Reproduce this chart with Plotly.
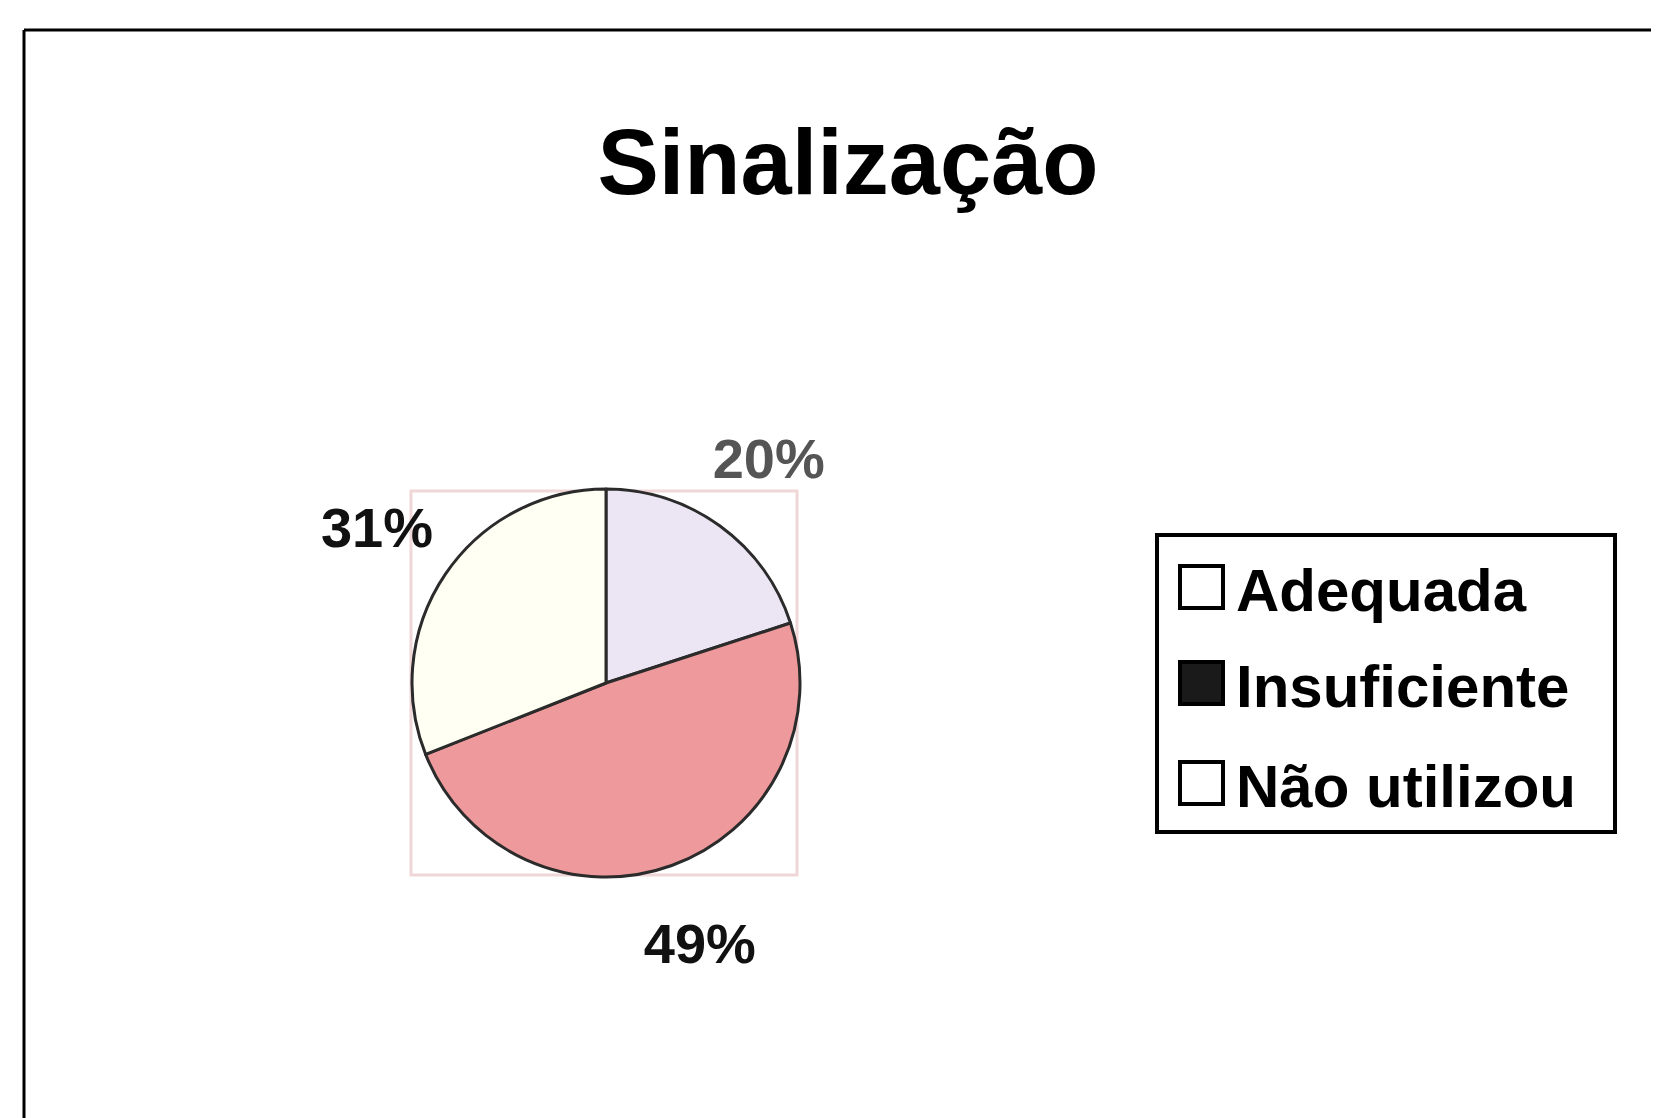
import plotly.graph_objects as go

W, H = 1659, 1118
OFF = 8  # body margin of the html page

labels = ['Adequada', 'Insuficiente', 'Não utilizou']
values = [20, 49, 31]
slice_colors = ['#ece5f4', '#ee999b', '#fffff3']
label_colors = ['#555555', '#111111', '#111111']
legend_box_colors = ['white', '#1a1a1a', 'white']

FONT = 'Arial, Liberation Sans, sans-serif'

CX, CY, R = 606, 683, 194   # pie centre / radius in page pixels
R_LAB = 355                 # outer radius of the ring that carries the % labels


def px(x):
    return (x - OFF) / W


def py(y):
    return 1 - (y - OFF) / H


fig = go.Figure()
fig.add_trace(go.Pie(
    labels=labels, values=values, sort=False, direction='clockwise', rotation=0,
    marker=dict(colors=slice_colors, line=dict(color='#2b2b2b', width=3)),
    textinfo='none',
    domain=dict(x=[px(CX - R), px(CX + R)], y=[py(CY + R), py(CY - R)]),
    showlegend=False, hoverinfo='label+percent',
))
# transparent ring of the same data, only used to place the percentage labels
fig.add_trace(go.Pie(
    labels=labels, values=values, sort=False, direction='clockwise', rotation=0,
    hole=0.56,
    marker=dict(colors=['rgba(0,0,0,0)'] * 3, line=dict(width=0)),
    textinfo='percent', textposition='inside', insidetextorientation='horizontal',
    insidetextfont=dict(family=FONT, size=56, color=label_colors, weight='bold'),
    domain=dict(x=[px(CX - R_LAB), px(CX + R_LAB)], y=[py(CY + R_LAB), py(CY - R_LAB)]),
    showlegend=False, hoverinfo='skip',
))

shapes = [
    # scanned page frame
    dict(type='line', xref='paper', yref='paper', x0=px(24), x1=px(W + 20), y0=py(30), y1=py(30),
         line=dict(color='black', width=3)),
    dict(type='line', xref='paper', yref='paper', x0=px(24), x1=px(24), y0=py(30), y1=py(H + 20),
         line=dict(color='black', width=3)),
    # faint plot-area box around the pie
    dict(type='rect', xref='paper', yref='paper', x0=px(411), x1=px(797), y0=py(875), y1=py(491),
         line=dict(color='#f0d6d6', width=3), layer='below'),
    # legend frame
    dict(type='rect', xref='paper', yref='paper', x0=px(1157), x1=px(1615), y0=py(832), y1=py(535),
         line=dict(color='black', width=4)),
]

annotations = []
row_y = [587, 683, 783]
for name, col, ry in zip(labels, legend_box_colors, row_y):
    shapes.append(dict(type='rect', xref='paper', yref='paper', x0=px(1180), x1=px(1223),
                       y0=py(ry + 21), y1=py(ry - 21), fillcolor=col,
                       line=dict(color='black', width=4)))
    annotations.append(dict(text=name, xref='paper', yref='paper', x=px(1234), y=py(ry + 3),
                            xanchor='left', yanchor='middle', showarrow=False,
                            font=dict(family=FONT, size=60, color='black', weight='bold')))

fig.update_layout(
    width=W, height=H,
    margin=dict(l=0, r=0, t=0, b=0),
    paper_bgcolor='white', plot_bgcolor='white',
    title=dict(text='Sinalização', x=px(848), y=py(162), xanchor='center', yanchor='middle',
               font=dict(family=FONT, size=92, color='black', weight='bold')),
    shapes=shapes, annotations=annotations,
)

fig.write_html("out.html")
